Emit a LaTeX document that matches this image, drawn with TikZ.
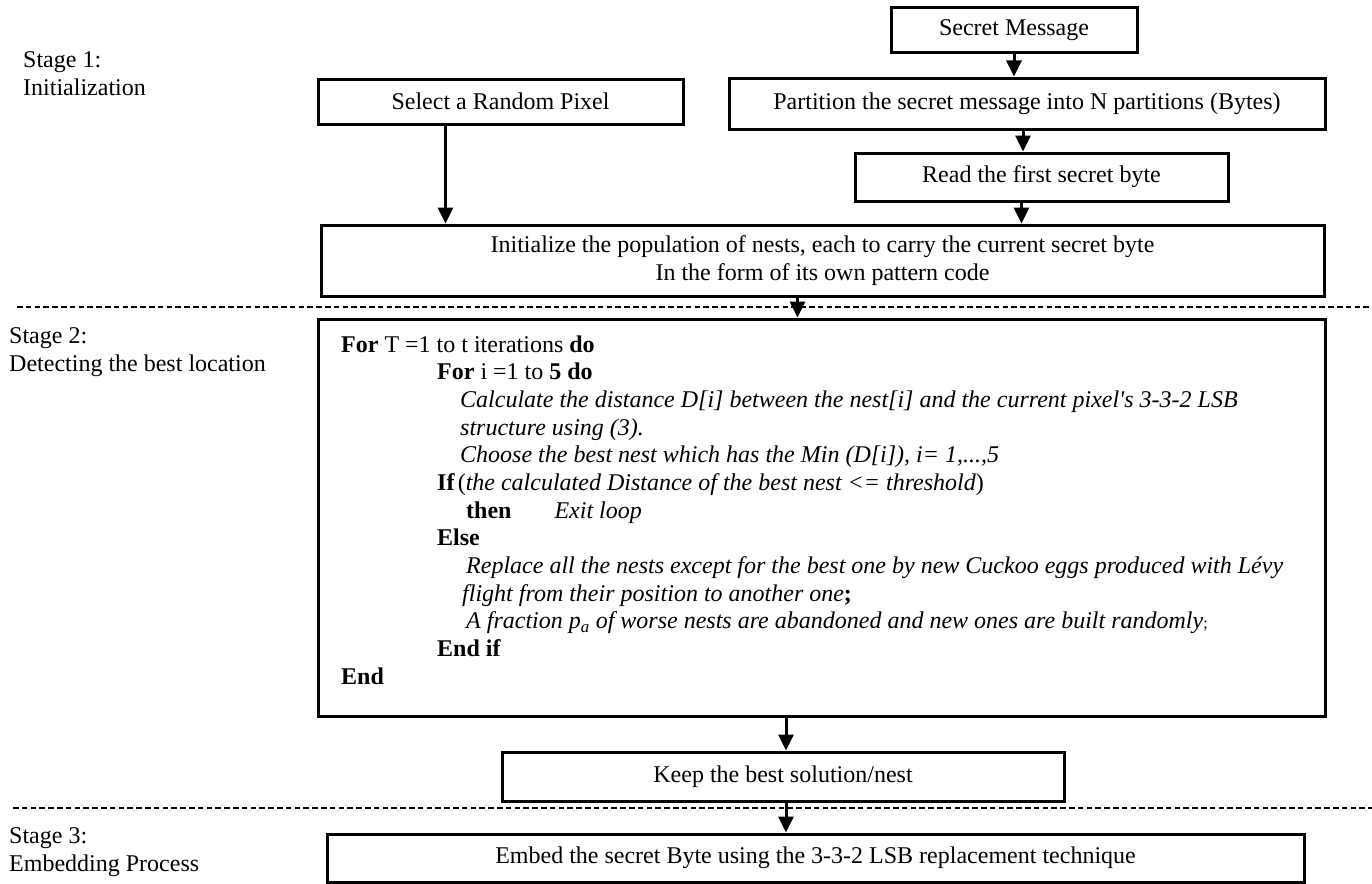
\documentclass[tikz,border=0pt]{standalone}
\usepackage{fontspec}
\setmainfont{Liberation Serif}[Ligatures=TeXOff]
\usetikzlibrary{arrows.meta}

\tikzset{
  txt/.style={font=\fontsize{24}{28}\selectfont},
  blk/.style={txt, draw, line width=3pt, inner sep=0pt},
  arr/.style={line width=3pt, -{Triangle[length=16pt,width=15pt]}},
  sep/.style={line width=1.3pt, dash pattern=on 5.5pt off 3.3pt},
}

\begin{document}
\begin{tikzpicture}[x=1pt, y=-1pt]
        \useasboundingbox (0,0) rectangle (1372,883);

        % stage 1
        \node[txt, align=left, anchor=north west, inner sep=0pt] (st1) at (23,51) {Stage 1:\\Initialization};
        \node[blk, minimum width=246, minimum height=45] (sec) at (1014,30.5) {Secret Message};
        \node[blk, minimum width=596, minimum height=51] (part) at (1027,103.5) {Partition the secret message into N partitions (Bytes)};
        \node[blk, minimum width=365, minimum height=45] (sel) at (500.5,101.5) {Select a Random Pixel};
        \node[blk, minimum width=373, minimum height=48] (read) at (1041.5,177) {Read the first secret byte};
        \node[blk, align=center, minimum width=1003, minimum height=71] (init) at (822.5,260.5)
            {Initialize the population of nests, each to carry the current secret byte\\In the form of its own pattern code};

        \draw[arr] (sec.south) -- (sec.south |- part.north);
        \draw[arr] ([xshift=-4pt]part.south) -- ([xshift=-4pt]part.south |- read.north);
        \draw[arr] ([xshift=-20pt]read.south) -- ([xshift=-20pt]read.south |- init.north);
        \draw[arr] ([xshift=-55pt]sel.south) -- ([xshift=-55pt]sel.south |- init.north);

        \draw[sep] (17,307) -- (1372,307);

        % stage 2
        \node[txt, align=left, anchor=north west, inner sep=0pt] (st2) at (9,327) {Stage 2:\\Detecting the best location};
        \node[blk, minimum width=1007, minimum height=397] (main) at (821.5,517.5) {};
        \draw[arr] ([xshift=-25pt]init.south) -- ([xshift=-25pt]init.south |- main.north);

        \foreach \dx/\ln [count=\k] in {
            341/{\textbf{For} T =1 to t iterations \textbf{do}},
            437/{\textbf{For} i =1 to \textbf{5 do}},
            460/{\textit{Calculate the distance D[i] between the nest[i] and the current pixel's 3-3-2 LSB}},
            460/{\textit{structure using (3).}},
            460/{\textit{Choose the best nest which has the Min (D[i]), i= 1,...,5}},
            437/{\textbf{If}\hspace{3pt}(\textit{the calculated Distance of the best nest <= threshold})},
            466/{\textbf{then}\hspace{43pt}\textit{Exit loop}},
            437/{\textbf{Else}},
            466/{\textit{Replace all the nests except for the best one by new Cuckoo eggs produced with Lévy}},
            462/{\textit{flight from their position to another one}\textbf{;}},
            466/{\textit{A fraction p\textsubscript{a} of worse nests are abandoned and new ones are built randomly}{\fontsize{16}{16}\selectfont;}},
            437/{\textbf{End if}},
            341/{\textbf{End}}}
            \node[txt, anchor=base west, inner sep=0pt] (ln\k) at (\dx,352+27.67*\k-27.67) {\ln};

        \node[blk, minimum width=562, minimum height=49] (keep) at (783,776.5) {Keep the best solution/nest};
        \draw[arr] ([xshift=3pt]keep.north |- main.south) -- ([xshift=3pt]keep.north);

        \draw[sep] (13,808) -- (1372,808);

        % stage 3
        \node[txt, align=left, anchor=north west, inner sep=0pt] (st3) at (9,827) {Stage 3:\\Embedding Process};
        \node[blk, minimum width=977, minimum height=48] (embed) at (815.5,858) {Embed the secret Byte using the 3-3-2 LSB replacement technique};
        \draw[arr] ([xshift=3pt]keep.south) -- ([xshift=3pt]keep.south |- embed.north);

    \end{tikzpicture}
\end{document}
